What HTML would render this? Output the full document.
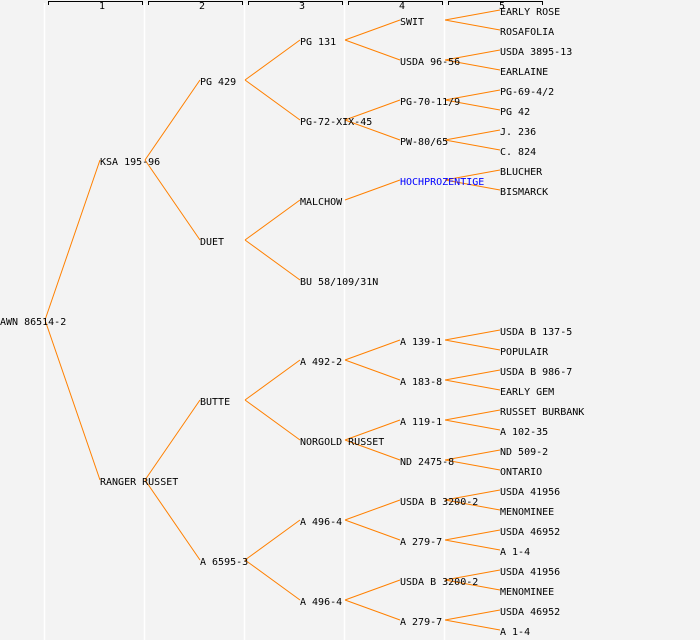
<!DOCTYPE html>
<html><head><meta charset="utf-8"><style>
html,body{margin:0;padding:0;background:#f3f3f3;}
svg{display:block;}
text{font-family:"DejaVu Sans Mono","Liberation Mono",monospace;font-size:10px;fill:#000;}
</style></head><body>
<svg width="700" height="640" viewBox="0 0 700 640" xmlns="http://www.w3.org/2000/svg">
<rect width="700" height="640" fill="#f3f3f3"/>
<g stroke="#ffffff" stroke-width="1.5">
<line x1="44.5" y1="3" x2="44.5" y2="640"/>
<line x1="144.5" y1="3" x2="144.5" y2="640"/>
<line x1="244.5" y1="3" x2="244.5" y2="640"/>
<line x1="344.5" y1="3" x2="344.5" y2="640"/>
<line x1="444.5" y1="3" x2="444.5" y2="640"/>
</g>
<g stroke="#000" stroke-width="1" fill="none">
<path d="M48.5 5V1.5H142.5V5"/>
<path d="M148.5 5V1.5H242.5V5"/>
<path d="M248.5 5V1.5H342.5V5"/>
<path d="M348.5 5V1.5H442.5V5"/>
<path d="M448.5 5V1.5H542.5V5"/>
</g>
<g style="font-size:8px">
<text x="99" y="9">1</text><text x="199" y="9">2</text><text x="299" y="9">3</text><text x="399" y="9">4</text><text x="499" y="9">5</text>
</g>
<g stroke="#ff8000" stroke-width="1" fill="none">
<path d="M45 320L100 160M45 320L100 480"/>
<path d="M145 160L200 80M145 160L200 240M145 480L200 400M145 480L200 560"/>
<path d="M245 80L300 40M245 80L300 120M245 240L300 200M245 240L300 280M245 400L300 360M245 400L300 440M245 560L300 520M245 560L300 600"/>
<path d="M345 40L400 20M345 40L400 60M345 120L400 100M345 120L400 140M345 200L400 180M345 360L400 340M345 360L400 380M345 440L400 420M345 440L400 460M345 520L400 500M345 520L400 540M345 600L400 580M345 600L400 620"/>
<path d="M445 20L500 10M445 20L500 30M445 60L500 50M445 60L500 70M445 100L500 90M445 100L500 110M445 140L500 130M445 140L500 150M445 180L500 170M445 180L500 190M445 340L500 330M445 340L500 350M445 380L500 370M445 380L500 390M445 420L500 410M445 420L500 430M445 460L500 450M445 460L500 470M445 500L500 490M445 500L500 510M445 540L500 530M445 540L500 550M445 580L500 570M445 580L500 590M445 620L500 610M445 620L500 630"/>
</g>
<g>
<text x="0" y="325">AWN 86514-2</text>
<text x="100" y="165">KSA 195-96</text>
<text x="100" y="485">RANGER RUSSET</text>
<text x="200" y="85">PG 429</text>
<text x="200" y="245">DUET</text>
<text x="200" y="405">BUTTE</text>
<text x="200" y="565">A 6595-3</text>
<text x="300" y="45">PG 131</text>
<text x="300" y="125">PG-72-XIX-45</text>
<text x="300" y="205">MALCHOW</text>
<text x="300" y="285">BU 58/109/31N</text>
<text x="300" y="365">A 492-2</text>
<text x="300" y="445">NORGOLD RUSSET</text>
<text x="300" y="525">A 496-4</text>
<text x="300" y="605">A 496-4</text>
<text x="400" y="25">SWIT</text>
<text x="400" y="65">USDA 96-56</text>
<text x="400" y="105">PG-70-11/9</text>
<text x="400" y="145">PW-80/65</text>
<text x="400" y="185" style="fill:#0000ff">HOCHPROZENTIGE</text>
<text x="400" y="345">A 139-1</text>
<text x="400" y="385">A 183-8</text>
<text x="400" y="425">A 119-1</text>
<text x="400" y="465">ND 2475-8</text>
<text x="400" y="505">USDA B 3200-2</text>
<text x="400" y="545">A 279-7</text>
<text x="400" y="585">USDA B 3200-2</text>
<text x="400" y="625">A 279-7</text>
<text x="500" y="15">EARLY ROSE</text>
<text x="500" y="35">ROSAFOLIA</text>
<text x="500" y="55">USDA 3895-13</text>
<text x="500" y="75">EARLAINE</text>
<text x="500" y="95">PG-69-4/2</text>
<text x="500" y="115">PG 42</text>
<text x="500" y="135">J. 236</text>
<text x="500" y="155">C. 824</text>
<text x="500" y="175">BLUCHER</text>
<text x="500" y="195">BISMARCK</text>
<text x="500" y="335">USDA B 137-5</text>
<text x="500" y="355">POPULAIR</text>
<text x="500" y="375">USDA B 986-7</text>
<text x="500" y="395">EARLY GEM</text>
<text x="500" y="415">RUSSET BURBANK</text>
<text x="500" y="435">A 102-35</text>
<text x="500" y="455">ND 509-2</text>
<text x="500" y="475">ONTARIO</text>
<text x="500" y="495">USDA 41956</text>
<text x="500" y="515">MENOMINEE</text>
<text x="500" y="535">USDA 46952</text>
<text x="500" y="555">A 1-4</text>
<text x="500" y="575">USDA 41956</text>
<text x="500" y="595">MENOMINEE</text>
<text x="500" y="615">USDA 46952</text>
<text x="500" y="635">A 1-4</text>
</g>
</svg>
</body></html>
